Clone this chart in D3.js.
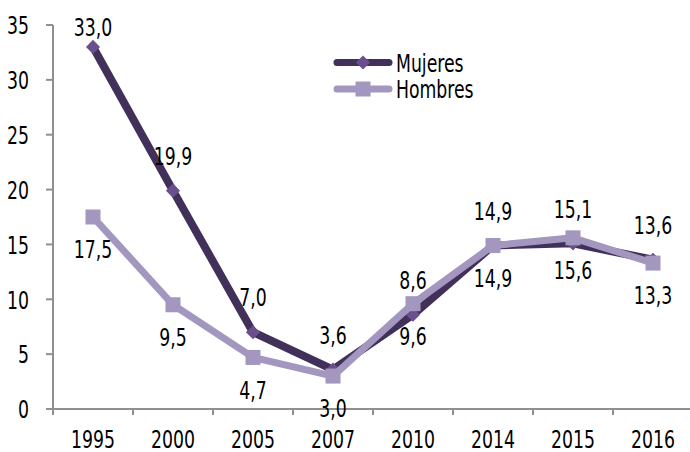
<!DOCTYPE html>
<html>
<head>
<meta charset="utf-8">
<script src="https://cdn.jsdelivr.net/npm/d3@7"></script>
<style>
  html, body { margin: 0; padding: 0; background: #ffffff; }
  svg { display: block; }
</style>
</head>
<body>
<svg id="chart" width="690" height="452"></svg>
<script>
const years = ["1995", "2000", "2005", "2007", "2010", "2014", "2015", "2016"];
const mujeres = [33.0, 19.9, 7.0, 3.6, 8.6, 14.9, 15.1, 13.6];
const hombres = [17.5, 9.5, 4.7, 3.0, 9.6, 14.9, 15.6, 13.3];
const yTicks = [0, 5, 10, 15, 20, 25, 30, 35];
const seriesNames = ["Mujeres", "Hombres"];

function hasFont(name) {
  const c = document.createElement("canvas").getContext("2d");
  const s = "1995 Mujeres Hombres";
  c.font = "40px monospace"; const a = c.measureText(s).width;
  c.font = "40px '" + name + "', monospace"; const b = c.measureText(s).width;
  c.font = "40px serif"; const a2 = c.measureText(s).width;
  c.font = "40px '" + name + "', serif"; const b2 = c.measureText(s).width;
  return a !== b || a2 !== b2;
}
let fontFamily = "'Liberation Sans Narrow', sans-serif";
let sx = 0.95, fontSize = 23;
if (!hasFont("Liberation Sans Narrow")) {
  if (hasFont("DejaVu Sans Condensed")) { fontFamily = "'DejaVu Sans Condensed', sans-serif"; sx = 0.8; fontSize = 24; }
  else { fontFamily = "'Liberation Sans', Arial, sans-serif"; sx = 0.78; fontSize = 23; }
}

const svg = d3.select("#chart");
const axisColor = "#8f8f8f";
const darkLine = "#41305a", darkMarker = "#6a4f8e";
const lightLine = "#a497bf", lightMarker = "#a497bf";

const x = d3.scaleBand().domain(years).range([53, 693]);
const y = d3.scaleLinear().domain([0, 35]).range([409, 25]);
const cx = d => x(d) + x.bandwidth() / 2;

function addText(g, tx, ty, str, anchor) {
  return g.append("text")
    .attr("transform", `translate(${tx},${ty}) scale(${sx},1)`)
    .attr("text-anchor", anchor || "middle")
    .attr("dominant-baseline", "central")
    .attr("font-family", fontFamily)
    .attr("font-size", fontSize)
    .attr("fill", "#000")
    .text(str);
}

// Y axis
const ya = svg.append("g");
ya.append("line").attr("x1", 53).attr("x2", 53).attr("y1", y(35)).attr("y2", y(0))
  .attr("stroke", axisColor).attr("stroke-width", 2);
yTicks.forEach(v => {
  ya.append("line").attr("x1", 46).attr("x2", 53).attr("y1", y(v)).attr("y2", y(v))
    .attr("stroke", axisColor).attr("stroke-width", 2);
  addText(ya, 29, y(v) + 1, String(v), "end");
});

// X axis
const xa = svg.append("g");
xa.append("line").attr("x1", 52).attr("x2", 693).attr("y1", y(0)).attr("y2", y(0))
  .attr("stroke", axisColor).attr("stroke-width", 2);
years.forEach(yr => {
  xa.append("line").attr("x1", x(yr)).attr("x2", x(yr)).attr("y1", y(0)).attr("y2", y(0) + 6)
    .attr("stroke", axisColor).attr("stroke-width", 2);
  addText(xa, cx(yr), 439.5, yr, "middle");
});

const line = d3.line().x((d, i) => cx(years[i])).y(d => y(d));

// Mujeres
const gm = svg.append("g");
gm.append("path").datum(mujeres).attr("d", line).attr("fill", "none")
  .attr("stroke", darkLine).attr("stroke-width", 8).attr("stroke-linejoin", "round");
gm.selectAll("path.m").data(mujeres).join("path").attr("class", "m")
  .attr("d", d3.symbol(d3.symbolSquare, 100)())
  .attr("transform", (d, i) => `translate(${cx(years[i])},${y(d)}) rotate(45)`)
  .attr("fill", darkMarker);

// Hombres
const gh = svg.append("g");
gh.append("path").datum(hombres).attr("d", line).attr("fill", "none")
  .attr("stroke", lightLine).attr("stroke-width", 7).attr("stroke-linejoin", "round");
gh.selectAll("rect").data(hombres).join("rect")
  .attr("x", (d, i) => cx(years[i]) - 7.5).attr("y", d => y(d) - 7.5)
  .attr("width", 15).attr("height", 15).attr("fill", lightMarker);

// Data labels
const gl = svg.append("g");
const fmt = v => v.toFixed(1).replace(".", ",");
mujeres.forEach((v, i) => addText(gl, cx(years[i]), Math.max(y(v) - 34, 28), fmt(v)));
hombres.forEach((v, i) => addText(gl, cx(years[i]), y(v) + 33, fmt(v)));

// Legend
const lg = svg.append("g");
const legY = [62.5, 89];
const legCols = [[darkLine, darkMarker], [lightLine, lightMarker]];
seriesNames.forEach((n, i) => {
  lg.append("line").attr("x1", 337).attr("x2", 389).attr("y1", legY[i]).attr("y2", legY[i])
    .attr("stroke", legCols[i][0]).attr("stroke-width", 7).attr("stroke-linecap", "round");
  if (i === 0) {
    lg.append("path").attr("d", d3.symbol(d3.symbolSquare, 100)())
      .attr("transform", `translate(363,${legY[i]}) rotate(45)`).attr("fill", legCols[i][1]);
  } else {
    lg.append("rect").attr("x", 363 - 7.5).attr("y", legY[i] - 7.5).attr("width", 15).attr("height", 15)
      .attr("fill", legCols[i][1]);
  }
  addText(lg, 396, legY[i] + 1, n, "start");
});
</script>
</body>
</html>
